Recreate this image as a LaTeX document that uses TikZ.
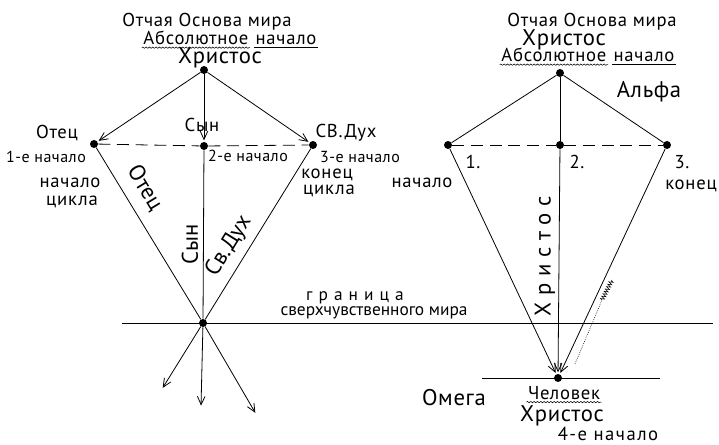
\documentclass[tikz,border=0pt]{standalone}
\usepackage{fontspec}
\setmainfont{PT Sans}
\usetikzlibrary{arrows.meta,decorations.pathmorphing}
\tikzset{
  pt/.style       = {circle, fill=black, inner sep=0pt, minimum size=6pt},
  ray/.style      = {-{Straight Barb[length=2.2mm,width=2mm]}, line width=0.6pt,
                     shorten >=1pt},
  edge/.style     = {line width=0.6pt},
  dashline/.style = {line width=0.6pt, dash pattern=on 9pt off 5pt},
  wavy/.style     = {decorate, decoration={snake, amplitude=0.5pt, segment length=2.5pt},
                     line width=0.4pt},
  title/.style    = {font={\fontsize{14}{15}\selectfont\addfontfeature{LetterSpace=4}}, inner sep=1pt},
  lab/.style      = {font={\fontsize{12}{13}\selectfont\addfontfeature{LetterSpace=3}}, inner sep=1pt},
  biglab/.style   = {font={\fontsize{17}{18}\selectfont\addfontfeature{LetterSpace=3}}, inner sep=1pt},
  alonglab/.style = {font={\fontsize{17}{18}\selectfont}, inner sep=0pt},
}

\begin{document}
\begin{tikzpicture}[x=0.75pt,y=-0.75pt]
  \useasboundingbox (0,0) rectangle (719,445);

  % left: the descent
  \node[pt] (xl) at (204, 70) {};
  \node[pt] (otec) at (94, 144) {};
  \node[pt] (syn) at (204, 146) {};
  \node[pt] (dukh) at (313, 145) {};
  \node[pt] (cross) at (203, 323) {};
  \coordinate (dl) at (162, 389);
  \coordinate (dm) at (201, 407);
  \coordinate (dr) at (256, 414);
  \coordinate (gl) at (122, 323);
  \coordinate (gr) at (713, 323);

  \draw[ray] (xl) to (otec);
  \draw[ray] (xl) to (syn);
  \draw[ray] (xl) to (dukh);
  \draw[dashline] (otec) -- (syn) -- (dukh);
  \draw[edge] (otec) -- (cross);
  \draw[edge] (syn) -- (cross);
  \draw[edge] (dukh) -- (cross);
  \draw[edge] (gl) -- (gr);
  \draw[ray] (cross) to (dl);
  \draw[ray] (cross) to (dm);
  \draw[ray] (cross) to (dr);

  \node[title] (osnl) at (207, 22) {Отчая Основа мира};
  \node[title, anchor=base east] (absl) at (250, 45) {Абсолютное};
  \node[title, anchor=base west] (nachl) at (254, 45) {начало};
  \draw[wavy] ([yshift=-2pt]absl.base west) -- ([yshift=-2pt]absl.base east);
  \draw[line width=0.4pt] ([yshift=-2pt]nachl.base west) -- ([yshift=-2pt]nachl.base east);
  \node[biglab] (khrl) at (220, 58) {Христос};
  \node[title] (otecl) at (57, 133) {Отец};
  \node[title] (synl) at (202, 125) {Сын};
  \node[title] (dukhl) at (346, 133) {СВ.Дух};
  \node[lab] (n1) at (46, 157) {1-е начало};
  \node[lab] (n2) at (248, 156) {2-е начало};
  \node[lab] (n3) at (360, 157) {3-е начало};
  \node[title] (nc1) at (70, 183) {начало};
  \node[title] (nc2) at (72, 202) {цикла};
  \node[title] (kc1) at (327, 175) {конец};
  \node[title] (kc2) at (329, 191) {цикла};
  \node[alonglab, rotate=-58.7] (otecr) at (145, 188) {Отец};
  \node[alonglab, rotate=90] (synr) at (190, 244) {Сын};
  \node[alonglab, rotate=58.3] (dukhr) at (229, 246) {Св.Дух};
  \node[font={\fontsize{13}{14}\selectfont\addfontfeature{LetterSpace=35}}, inner sep=1pt]
    (gran1) at (355, 298) {граница};
  \node[font={\fontsize{13}{14}\selectfont}, inner sep=1pt]
    (gran2) at (374, 313) {сверхчувственного мира};

  % right: the return
  \node[pt] (xr) at (560, 73) {};
  \node[pt] (p1) at (448, 145) {};
  \node[pt] (p2) at (560, 145) {};
  \node[pt] (p3) at (667, 145) {};
  \node[pt] (chel) at (558, 378) {};
  \coordinate (hl) at (482, 378);
  \coordinate (hr) at (660, 378);
  \coordinate (ha) at (575, 364);
  \coordinate (hb) at (602, 300);

  \draw[edge] (xr) -- (p1);
  \draw[edge] (xr) -- (p2);
  \draw[edge] (xr) -- (p3);
  \draw[dashline] (p1) -- (p2) -- (p3);
  \draw[ray] (p1) to (chel);
  \draw[ray] (p2) to (chel);
  \draw[ray] (p3) to (chel);
  \draw[edge] (hl) -- (hr);
  \draw[line width=0.5pt, densely dotted] (ha) -- (hb);
  \draw[line width=0.4pt, decorate, decoration={zigzag, amplitude=1.5pt, segment length=2pt}]
    (hb) -- ++(10, -20);

  \node[title] (osnr) at (592, 22) {Отчая Основа мира};
  \node[biglab] (khrr) at (564, 40) {Христос};
  \node[title, anchor=base east] (absr) at (608, 62) {Абсолютное};
  \node[title, anchor=base west] (nachr) at (612, 62) {начало};
  \draw[wavy] ([yshift=-2pt]absr.base west) -- ([yshift=-2pt]absr.base east);
  \draw[line width=0.4pt] ([yshift=-2pt]nachr.base west) -- ([yshift=-2pt]nachr.base east);
  \node[biglab] (alfa) at (649, 92) {Альфа};
  \node[title] (d1) at (473, 162) {1.};
  \node[title] (d2) at (577, 162) {2.};
  \node[title] (d3) at (682, 162) {3.};
  \node[title] (nachr2) at (422, 183) {начало};
  \node[title] (kon) at (691, 186) {конец};
  \node[font={\fontsize{17}{18}\selectfont\addfontfeature{LetterSpace=30}}, inner sep=1pt,
        rotate=90] (khrv) at (545, 256) {Христос};
  \node[biglab] (omega) at (454, 398) {Омега};
  \node[title] (chell) at (564, 393) {Человек};
  \draw[wavy] ([yshift=-2pt]chell.base west) -- ([yshift=-2pt]chell.base east);
  \node[biglab] (khrb) at (562, 416) {Христос};
  \node[font={\fontsize{14}{15}\selectfont\addfontfeature{LetterSpace=8}}, inner sep=1pt]
    (n4) at (608, 434) {4-е начало};
\end{tikzpicture}
\end{document}
